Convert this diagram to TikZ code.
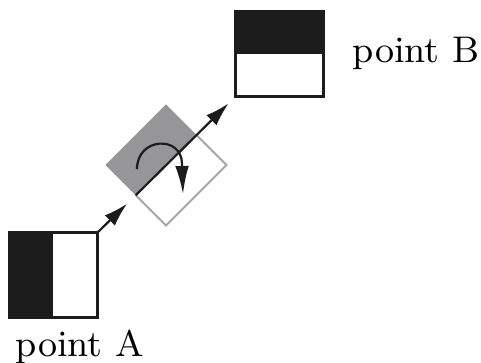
\documentclass[tikz,border=0pt]{standalone}
\usetikzlibrary{arrows.meta}
\definecolor{ink}{RGB}{28,28,28}
\definecolor{valvegray}{RGB}{150,150,152}
\definecolor{rimgray}{RGB}{165,165,165}
\begin{document}
\begin{tikzpicture}[x=0.25bp,y=-0.25bp,
  port/.style={rectangle,inner sep=0pt,minimum width=21.5bp,minimum height=20.75bp},
  portrim/.style={draw=ink,line width=0.65bp},
  flow/.style={draw=ink,line width=0.55bp,-{Latex[length=6bp,width=3.6bp]}},
  lbl/.style={font=\fontsize{9.3}{11}\selectfont,inner sep=0pt}]
\useasboundingbox (0,0) rectangle (481,363);

% the two ports
\node[port] (boxA) at (53.5,275) {};
\node[port] (boxB) at (279.5,54) {};
\fill[ink] (boxA.south west) rectangle (boxA.north);
\fill[ink] (boxB.north west) rectangle (boxB.east);
\draw[portrim] (boxA.south west) rectangle (boxA.north east);
\draw[portrim] (boxB.south west) rectangle (boxB.north east);

% the turning valve between them
\node[rectangle,rotate=45,inner sep=0pt,minimum size=21bp] (valve) at (166,165) {};
\fill[valvegray] (valve.west) -- (valve.north west) -- (valve.north east) -- (valve.east) -- cycle;
\draw[rimgray,line width=0.5bp] (valve.west) -- (valve.south west) -- (valve.south east) -- (valve.east);

% flow from A through the valve to B
\draw[flow,shorten >=3bp] (boxA.north east) -- (valve.west);
\draw[flow,shorten >=2.5bp] (valve.west) -- (boxB.south west);

% rotation sense of the valve
\coordinate (turnS) at (137,169);
\coordinate (turnE) at (183,194);
\draw[draw=ink,line width=0.55bp,-{Latex[length=7bp,width=3.4bp]}]
  (turnS) .. controls (137,137) and (182,135) .. (182,164) -- (turnE);

% labels
\node[lbl,anchor=base west] (labelA) at (15,356) {point A};
\node[lbl,anchor=base west] (labelB) at (352,62) {point B};
\end{tikzpicture}
\end{document}
